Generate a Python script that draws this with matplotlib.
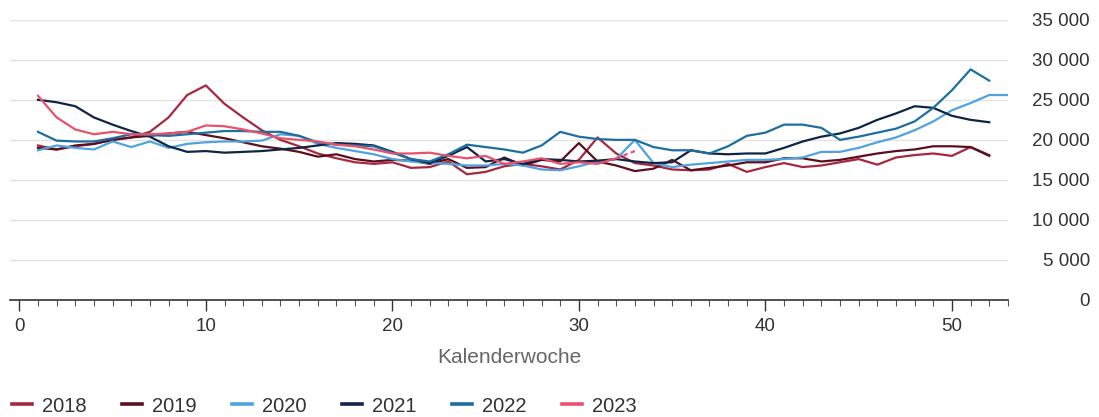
import matplotlib.pyplot as plt
from matplotlib.ticker import MultipleLocator, FuncFormatter

plt.rcParams['font.family'] = ['Liberation Sans', 'DejaVu Sans']

# Fälle je Kalenderwoche
y2018 = [19300, 18800, 19200, 19500, 20000, 20300, 21000, 22800, 25600, 26800,
         24500, 22800, 21200, 20000, 19200, 18300, 17700, 17200, 17000, 17200,
         16500, 16600, 17300, 15700, 16000, 16700, 17000, 16700, 16300, 17500,
         20300, 18300, 17100, 16800, 16300, 16200, 16300, 17000, 16000, 16600,
         17100, 16600, 16800, 17200, 17600, 16900, 17800, 18100, 18300, 18000,
         19100, 18100]
y2019 = [19000, 18800, 19300, 19500, 20000, 20300, 20500, 20800, 21000, 20600,
         20200, 19700, 19200, 18900, 18500, 17900, 18200, 17600, 17300, 17500,
         17400, 17000, 17600, 16500, 16600, 17800, 16800, 17500, 17300, 19600,
         17300, 16800, 16100, 16400, 17500, 16200, 16500, 16800, 17200, 17200,
         17700, 17700, 17300, 17500, 17900, 18300, 18600, 18800, 19200, 19200,
         19100, 18000]
y2020 = [18700, 19300, 19000, 18800, 19800, 19100, 19800, 19000, 19500, 19700,
         19800, 19800, 19900, 20700, 20500, 19500, 19000, 18600, 18200, 17600,
         17300, 17100, 17000, 16800, 16800, 17000, 16800, 16300, 16200, 16700,
         17300, 17600, 20000, 17100, 16600, 16900, 17100, 17300, 17500, 17500,
         17600, 17800, 18500, 18500, 19000, 19700, 20300, 21200, 22300, 23700,
         24600, 25600, 25600]
y2021 = [25000, 24700, 24200, 22800, 21900, 21100, 20400, 19200, 18500, 18600,
         18400, 18500, 18600, 18800, 19000, 19300, 19600, 19500, 19300, 18500,
         17600, 17100, 18000, 19100, 17300, 17600, 17000, 17600, 17500, 17300,
         17400, 17600, 17300, 17100, 17200, 18700, 18300, 18200, 18300, 18300,
         19000, 19800, 20400, 20800, 21500, 22500, 23300, 24200, 24000, 23000,
         22500, 22200]
y2022 = [21000, 19900, 19800, 19800, 20200, 20700, 20600, 20500, 20700, 20900,
         21100, 21100, 21000, 21000, 20500, 19700, 19400, 19300, 19200, 18400,
         17600, 17300, 18200, 19400, 19100, 18800, 18400, 19300, 21000, 20400,
         20100, 20000, 20000, 19100, 18700, 18700, 18300, 19200, 20500, 20900,
         21900, 21900, 21500, 20000, 20400, 20900, 21400, 22300, 24000, 26200,
         28800, 27400]
y2023 = [25500, 22800, 21300, 20700, 21000, 20700, 20700, 20800, 21000, 21800,
         21700, 21300, 20800, 20200, 20000, 19800, 19400, 19200, 18800, 18300,
         18300, 18400, 18000, 17700, 18000, 17000, 17300, 17700, 17000, 17200,
         17000, 17700, 18600]

series = [('2018', y2018, '#a6283f'),
          ('2019', y2019, '#5b0f1e'),
          ('2020', y2020, '#4fa3e0'),
          ('2021', y2021, '#0e2545'),
          ('2022', y2022, '#1c6fa0'),
          ('2023', y2023, '#e8526a')]

fig = plt.figure(figsize=(10.99, 4.17), dpi=100)
ax = fig.add_axes([0.0091, 0.2806, 0.908, 0.672])

for name, vals, col in series:
    weeks = list(range(1, len(vals) + 1))
    if name == '2023':
        # letzter Wert vorläufig -> gestrichelt
        ax.plot(weeks[:-1], vals[:-1], color=col, lw=1.6, label=name, zorder=3)
        ax.plot(weeks[-2:], vals[-2:], color=col, lw=1.6, ls=(0, (2, 1.5)), zorder=3)
    else:
        ax.plot(weeks, vals, color=col, lw=1.6, label=name, zorder=3)

ax.set_xlim(-0.5, 53)
ax.set_ylim(0, 35000)

ax.yaxis.set_major_locator(MultipleLocator(5000))
ax.yaxis.set_major_formatter(FuncFormatter(lambda v, p: f"{v:,.0f}".replace(',', ' ')))
ax.yaxis.tick_right()
ax.tick_params(axis='y', length=0, pad=59, labelsize=13.5, labelcolor='#333333')
for lab in ax.get_yticklabels():
    lab.set_horizontalalignment('right')

ax.xaxis.set_major_locator(MultipleLocator(10))
ax.xaxis.set_minor_locator(MultipleLocator(1))
ax.tick_params(axis='x', which='major', length=8, width=1, color='#333333',
               labelsize=13.5, labelcolor='#333333', pad=5)
ax.tick_params(axis='x', which='minor', length=4, width=0.8, color='#555555')

ax.grid(axis='y', color='#e3e3e3', lw=1)
ax.set_axisbelow(True)
for s in ['top', 'right', 'left']:
    ax.spines[s].set_visible(False)
ax.spines['bottom'].set_color('#333333')
ax.spines['bottom'].set_linewidth(1.2)

ax.set_xlabel('Kalenderwoche', fontsize=15, color='#666666', labelpad=9)

leg = fig.legend(loc='center left', bbox_to_anchor=(0.011, 11 / 417), ncol=6,
                 frameon=False, fontsize=14.5, handlelength=1.0, handletextpad=0.5,
                 columnspacing=1.75, borderpad=0, borderaxespad=0,
                 labelcolor='#333333')
for h in leg.legend_handles:
    h.set_linewidth(2.6)

fig.savefig('out.png', dpi=100)
